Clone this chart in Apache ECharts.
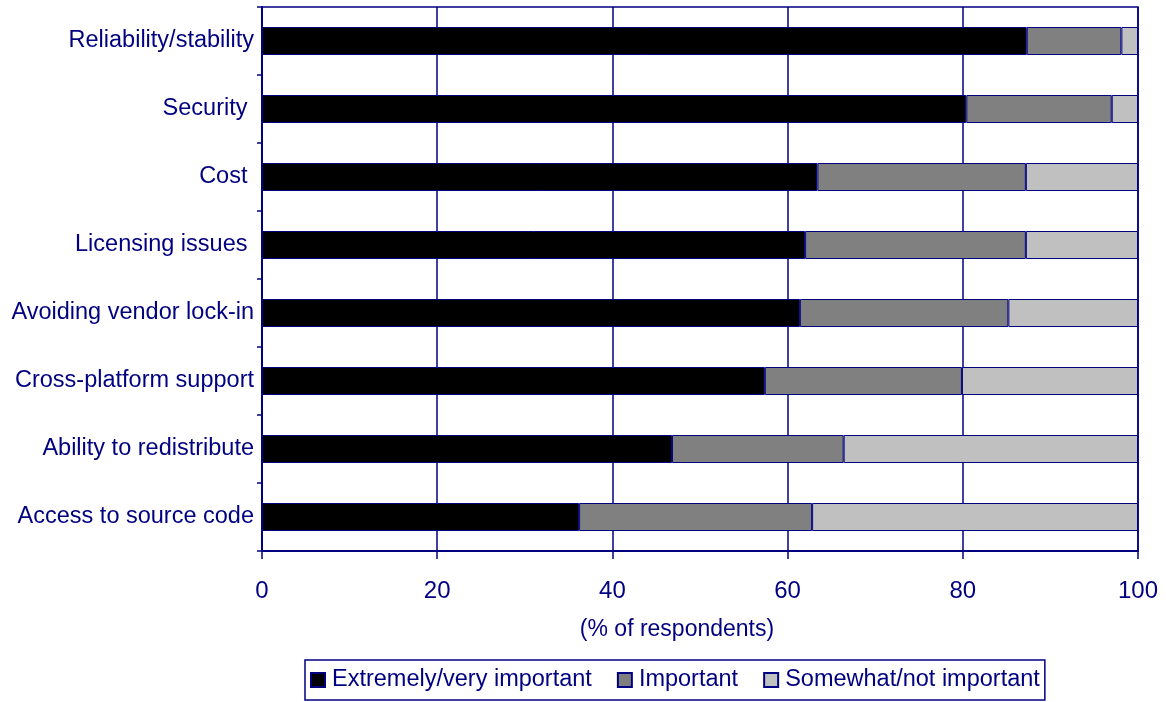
<!DOCTYPE html>
<html>
<head>
<meta charset="utf-8">
<script src="https://cdn.jsdelivr.net/npm/echarts@6/dist/echarts.min.js"></script>
<style>
  html, body { margin: 0; padding: 0; background: #ffffff; }
  #chart { width: 1166px; height: 702px; }
</style>
</head>
<body>
<div id="chart"></div>
<script>
// Factors rated by respondents, top to bottom
const categories = [
  'Reliability/stability',
  'Security ',
  'Cost ',
  'Licensing issues ',
  'Avoiding vendor lock-in',
  'Cross-platform support',
  'Ability to redistribute',
  'Access to source code'
];

// Share of respondents (%) per rating level
const extremelyVery = [87.3, 80.4, 63.4, 62.0, 61.4, 57.4, 46.8, 36.2];
const important     = [10.8, 16.6, 23.8, 25.2, 23.8, 22.5, 19.6, 26.6];
const somewhatNot   = [1.9, 3.0, 12.8, 12.8, 14.8, 20.1, 33.6, 37.2];

const xTicks = [0, 20, 40, 60, 80, 100];
const xTitle = '(% of respondents)';

const navy = '#000080';
const font = 'Liberation Sans, Arial, sans-serif';

const chart = echarts.init(document.getElementById('chart'));

function barSeries(name, data, color) {
  return {
    name: name,
    type: 'bar',
    stack: 'total',
    data: data,
    barWidth: 28,
    itemStyle: { color: color, borderColor: navy, borderWidth: 1 },
    emphasis: { disabled: true }
  };
}

chart.setOption({
  animation: false,
  backgroundColor: '#ffffff',
  textStyle: { fontFamily: font },
  grid: {
    left: 262,
    right: 28,
    top: 7,
    bottom: 151,
    show: true,
    borderColor: navy,
    borderWidth: 1.5
  },
  graphic: [{
    type: 'text',
    x: 677,
    y: 630,
    style: {
      text: xTitle,
      fill: navy,
      font: '23px ' + font,
      textAlign: 'center',
      textVerticalAlign: 'middle'
    }
  }],
  xAxis: {
    type: 'value',
    min: xTicks[0],
    max: xTicks[xTicks.length - 1],
    interval: 20,
    axisLine: { show: true, lineStyle: { color: navy, width: 2 } },
    axisTick: { show: true, length: 8, lineStyle: { color: navy, width: 1.5 } },
    axisLabel: { color: navy, fontSize: 24, margin: 28, fontFamily: font },
    splitLine: { show: true, lineStyle: { color: navy, width: 1.5 } }
  },
  yAxis: {
    type: 'category',
    data: categories,
    inverse: true,
    axisLine: { show: true, lineStyle: { color: navy, width: 2 } },
    axisTick: { show: true, length: 5, lineStyle: { color: navy, width: 1.5 } },
    axisLabel: { color: navy, fontSize: 23.5, margin: 8, fontFamily: font },
    splitLine: { show: false }
  },
  legend: {
    left: 305,
    top: 660,
    itemWidth: 14,
    itemHeight: 14,
    itemGap: 25,
    padding: [8, 5, 8, 5],
    borderColor: navy,
    borderWidth: 1.5,
    icon: 'rect',
    textStyle: { color: navy, fontSize: 23.5, fontFamily: font, padding: [0, 0, 0, 2] },
    data: ['Extremely/very important', 'Important', 'Somewhat/not important']
  },
  series: [
    barSeries('Extremely/very important', extremelyVery, '#000000'),
    barSeries('Important', important, '#808080'),
    barSeries('Somewhat/not important', somewhatNot, '#c0c0c0')
  ]
});
</script>
</body>
</html>
